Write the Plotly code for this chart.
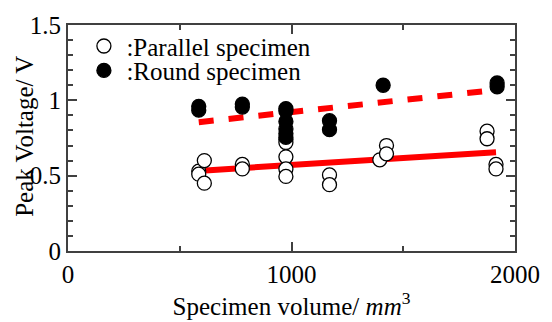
import plotly.graph_objects as go

# Parallel specimen (open circles)
par_x = [585, 585, 610, 610, 780, 780, 975, 975, 975, 975, 975, 1170, 1170, 1395, 1425, 1425, 1875, 1875, 1915, 1915]
par_y = [0.53, 0.51, 0.60, 0.45, 0.575, 0.545, 0.74, 0.72, 0.625, 0.545, 0.495, 0.505, 0.44, 0.605, 0.70, 0.645, 0.795, 0.745, 0.575, 0.545]

# Round specimen (filled circles)
rnd_x = [585, 585, 780, 780, 975, 975, 975, 975, 975, 975, 1170, 1170, 1410, 1920, 1920]
rnd_y = [0.96, 0.935, 0.975, 0.955, 0.945, 0.93, 0.86, 0.81, 0.78, 0.755, 0.865, 0.805, 1.10, 1.115, 1.09]

# Fitted lines
fit_par_x = [615, 1915]
fit_par_y = [0.535, 0.655]
fit_rnd_x = [585, 1920]
fit_rnd_y = [0.855, 1.07]

x_ticks = [0, 1000, 2000]
x_ticktext = ["0", "1000", "2000"]
y_ticks = [0, 0.5, 1, 1.5]
y_ticktext = ["0", "0.5", "1", "1.5"]

FONT = "Liberation Serif"

fig = go.Figure()
fig.add_trace(go.Scatter(x=fit_par_x, y=fit_par_y, mode="lines",
                         line=dict(color="#ff0000", width=6), showlegend=False))
fig.add_trace(go.Scatter(x=fit_rnd_x, y=fit_rnd_y, mode="lines",
                         line=dict(color="#ff0000", width=6, dash="15px,15px"), showlegend=False))
fig.add_trace(go.Scatter(x=par_x, y=par_y, mode="markers", name=":Parallel specimen",
                         legend="legend",
                         marker=dict(symbol="circle", size=14, color="white",
                                     line=dict(color="black", width=1.3))))
fig.add_trace(go.Scatter(x=rnd_x, y=rnd_y, mode="markers", name=":Round specimen",
                         legend="legend2",
                         marker=dict(symbol="circle", size=14, color="black",
                                     line=dict(color="black", width=1.3))))

axis_common = dict(showline=True, linecolor="#404040", linewidth=2, mirror="allticks",
                   ticks="inside", tickcolor="#404040", tickwidth=1.5, ticklen=9,
                   showgrid=False, zeroline=False,
                   tickfont=dict(family=FONT, size=25, color="black"))

legend_common = dict(xanchor="left", yanchor="middle", bgcolor="rgba(0,0,0,0)",
                     font=dict(family=FONT, size=25, color="black"), itemwidth=35)

fig.update_layout(
    width=552, height=322,
    margin=dict(l=68, r=33, t=17, b=63),
    paper_bgcolor="white", plot_bgcolor="white",
    font=dict(family=FONT, size=25, color="black"),
    xaxis=dict(range=[0, 2000], tickvals=x_ticks, ticktext=x_ticktext,
               minor=dict(dtick=500, ticks="inside", ticklen=5, tickcolor="#404040", tickwidth=1.5),
               title=dict(text="Specimen volume/ <i>mm</i><sup>3</sup>", standoff=4,
                          font=dict(family=FONT, size=25)),
               **axis_common),
    yaxis=dict(range=[0, 1.5], tickvals=y_ticks, ticktext=y_ticktext,
               minor=dict(dtick=0.1, ticks="inside", ticklen=5, tickcolor="#404040", tickwidth=1.5),
               **axis_common),
    legend=dict(x=0.03, y=0.906, **legend_common),
    legend2=dict(x=0.03, y=0.798, **legend_common),
    annotations=[dict(text="Peak Voltage/ V", textangle=-90, xref="paper", yref="paper",
                      x=-0.0976, y=0.507, xanchor="center", yanchor="middle",
                      showarrow=False, font=dict(family=FONT, size=25, color="black"))],
)

fig.write_html("out.html")
